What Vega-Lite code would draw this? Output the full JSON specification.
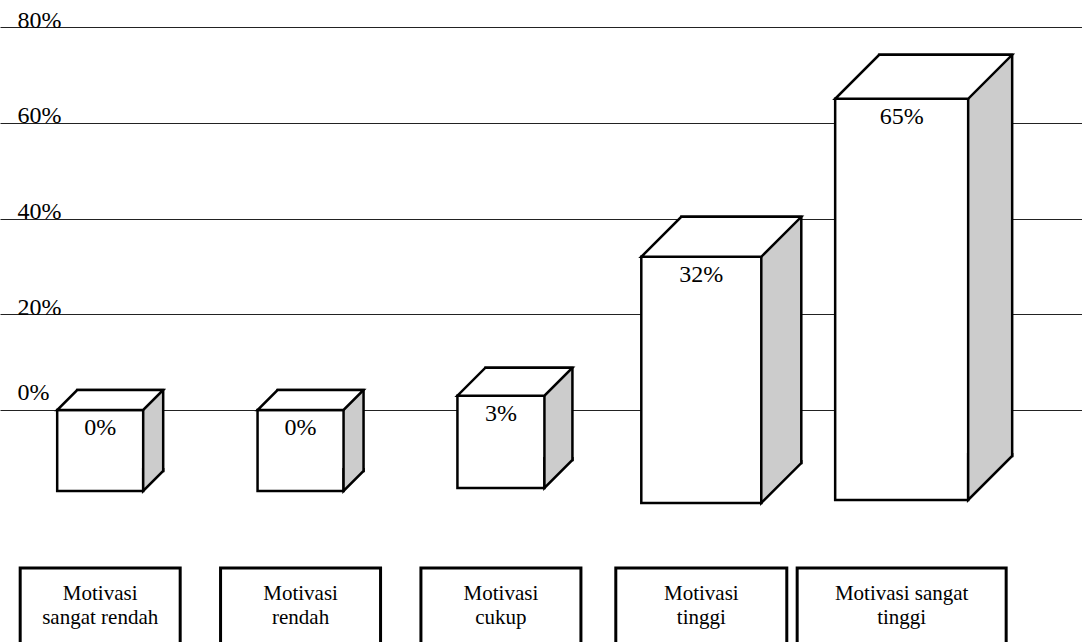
{
  "$schema": "https://vega.github.io/schema/vega-lite/v6.json",
  "width": 1082,
  "height": 642,
  "padding": 0,
  "autosize": {"type": "none"},
  "config": {"view": {"stroke": null}, "font": "Liberation Serif"},
  "data": {
    "values": [
      {"kategori": "Motivasi\nsangat rendah", "persen": 0},
      {"kategori": "Motivasi\nrendah", "persen": 0},
      {"kategori": "Motivasi\ncukup", "persen": 0.03},
      {"kategori": "Motivasi\ntinggi", "persen": 0.32},
      {"kategori": "Motivasi sangat\ntinggi", "persen": 0.65}
    ]
  },
  "encoding": {
    "x": {
      "field": "kategori",
      "type": "nominal",
      "sort": null,
      "scale": {"paddingInner": 0, "paddingOuter": 0.2, "align": 0},
      "axis": null
    },
    "y": {
      "field": "persen",
      "type": "quantitative",
      "scale": {"domain": [-0.4846, 0.8564], "nice": false, "zero": false},
      "axis": {
        "values": [0, 0.2, 0.4, 0.6, 0.8],
        "format": ".0%",
        "title": null,
        "domain": false,
        "ticks": false,
        "tickSize": 0,
        "grid": true,
        "gridColor": "#222222",
        "gridWidth": 1,
        "labelAlign": "left",
        "labelBaseline": "alphabetic",
        "labelPadding": -17,
        "labelFont": "Liberation Serif",
        "labelFontSize": 24,
        "labelColor": "black",
        "labelOffset": {"condition": {"test": "datum.value === 0", "value": -10}, "value": 0}
      }
    }
  },
  "layer": [
    {
      "transform": [{"filter": "datum.persen === 0"}],
      "layer": [
        {"mark": {"type": "bar", "width": 86, "xOffset": 20, "yOffset": -20, "y2Offset": -20, "fill": "#cccccc", "stroke": "black", "strokeWidth": 2.5}, "encoding": {"y2": {"datum": -0.1692}}},
        {"mark": {"type": "bar", "width": 86, "fill": "white", "stroke": "black", "strokeWidth": 2.5}, "encoding": {"y2": {"datum": -0.1692}}},
        {"mark": {"type": "point", "shape": "M-43,0L43,0L63,-20L-23,-20Z", "size": 4, "filled": true, "fill": "white", "stroke": "black", "strokeWidth": 2.5, "strokeJoin": "miter", "opacity": 1}, "encoding": {}},
        {"mark": {"type": "point", "shape": "M63,-23L63,-20L43,0L43,-23", "size": 4, "filled": true, "fill": "#cccccc", "stroke": "black", "strokeWidth": 2.5, "opacity": 1}, "encoding": {"y": {"datum": -0.1692, "type": "quantitative"}}},
        {"mark": {"type": "bar", "width": 160, "fill": "white", "stroke": "black", "strokeWidth": 3}, "encoding": {"y": {"datum": -0.33, "type": "quantitative"}, "y2": {"datum": -0.56}}}
      ]
    },
    {
      "transform": [{"filter": "datum.persen === 0.03"}],
      "layer": [
        {"mark": {"type": "bar", "width": 87, "xOffset": 28, "yOffset": -28, "y2Offset": -28, "fill": "#cccccc", "stroke": "black", "strokeWidth": 2.5}, "encoding": {"y2": {"datum": -0.1629}}},
        {"mark": {"type": "bar", "width": 87, "fill": "white", "stroke": "black", "strokeWidth": 2.5}, "encoding": {"y2": {"datum": -0.1629}}},
        {"mark": {"type": "point", "shape": "M-43.5,0L43.5,0L71.5,-28L-15.5,-28Z", "size": 4, "filled": true, "fill": "white", "stroke": "black", "strokeWidth": 2.5, "strokeJoin": "miter", "opacity": 1}, "encoding": {}},
        {"mark": {"type": "point", "shape": "M71.5,-31L71.5,-28L43.5,0L43.5,-31", "size": 4, "filled": true, "fill": "#cccccc", "stroke": "black", "strokeWidth": 2.5, "opacity": 1}, "encoding": {"y": {"datum": -0.1629, "type": "quantitative"}}},
        {"mark": {"type": "bar", "width": 160, "fill": "white", "stroke": "black", "strokeWidth": 3}, "encoding": {"y": {"datum": -0.33, "type": "quantitative"}, "y2": {"datum": -0.56}}}
      ]
    },
    {
      "transform": [{"filter": "datum.persen === 0.32"}],
      "layer": [
        {"mark": {"type": "bar", "width": 120, "xOffset": 40, "yOffset": -40, "y2Offset": -40, "fill": "#cccccc", "stroke": "black", "strokeWidth": 2.5}, "encoding": {"y2": {"datum": -0.1943}}},
        {"mark": {"type": "bar", "width": 120, "fill": "white", "stroke": "black", "strokeWidth": 2.5}, "encoding": {"y2": {"datum": -0.1943}}},
        {"mark": {"type": "point", "shape": "M-60,0L60,0L100,-40L-20,-40Z", "size": 4, "filled": true, "fill": "white", "stroke": "black", "strokeWidth": 2.5, "strokeJoin": "miter", "opacity": 1}, "encoding": {}},
        {"mark": {"type": "point", "shape": "M100,-43L100,-40L60,0L60,-43", "size": 4, "filled": true, "fill": "#cccccc", "stroke": "black", "strokeWidth": 2.5, "opacity": 1}, "encoding": {"y": {"datum": -0.1943, "type": "quantitative"}}},
        {"mark": {"type": "bar", "width": 171, "fill": "white", "stroke": "black", "strokeWidth": 3}, "encoding": {"y": {"datum": -0.33, "type": "quantitative"}, "y2": {"datum": -0.56}}}
      ]
    },
    {
      "transform": [{"filter": "datum.persen === 0.65"}],
      "layer": [
        {"mark": {"type": "bar", "width": 133, "xOffset": 44, "yOffset": -44, "y2Offset": -44, "fill": "#cccccc", "stroke": "black", "strokeWidth": 2.5}, "encoding": {"y2": {"datum": -0.188}}},
        {"mark": {"type": "bar", "width": 133, "fill": "white", "stroke": "black", "strokeWidth": 2.5}, "encoding": {"y2": {"datum": -0.188}}},
        {"mark": {"type": "point", "shape": "M-66.5,0L66.5,0L110.5,-44L-22.5,-44Z", "size": 4, "filled": true, "fill": "white", "stroke": "black", "strokeWidth": 2.5, "strokeJoin": "miter", "opacity": 1}, "encoding": {}},
        {"mark": {"type": "point", "shape": "M110.5,-47L110.5,-44L66.5,0L66.5,-47", "size": 4, "filled": true, "fill": "#cccccc", "stroke": "black", "strokeWidth": 2.5, "opacity": 1}, "encoding": {"y": {"datum": -0.188, "type": "quantitative"}}},
        {"mark": {"type": "bar", "width": 209, "fill": "white", "stroke": "black", "strokeWidth": 3}, "encoding": {"y": {"datum": -0.33, "type": "quantitative"}, "y2": {"datum": -0.56}}}
      ]
    },
    {
      "mark": {"type": "text", "baseline": "top", "dy": 6, "fontSize": 24, "font": "Liberation Serif", "fill": "black"},
      "encoding": {"text": {"field": "persen", "type": "quantitative", "format": ".0%"}}
    },
    {
      "mark": {"type": "text", "baseline": "alphabetic", "align": "center", "fontSize": 21, "lineHeight": 24, "lineBreak": "\n", "font": "Liberation Serif", "fill": "black"},
      "encoding": {
        "y": {"datum": -0.3969, "type": "quantitative"},
        "text": {"field": "kategori", "type": "nominal"}
      }
    }
  ]
}
